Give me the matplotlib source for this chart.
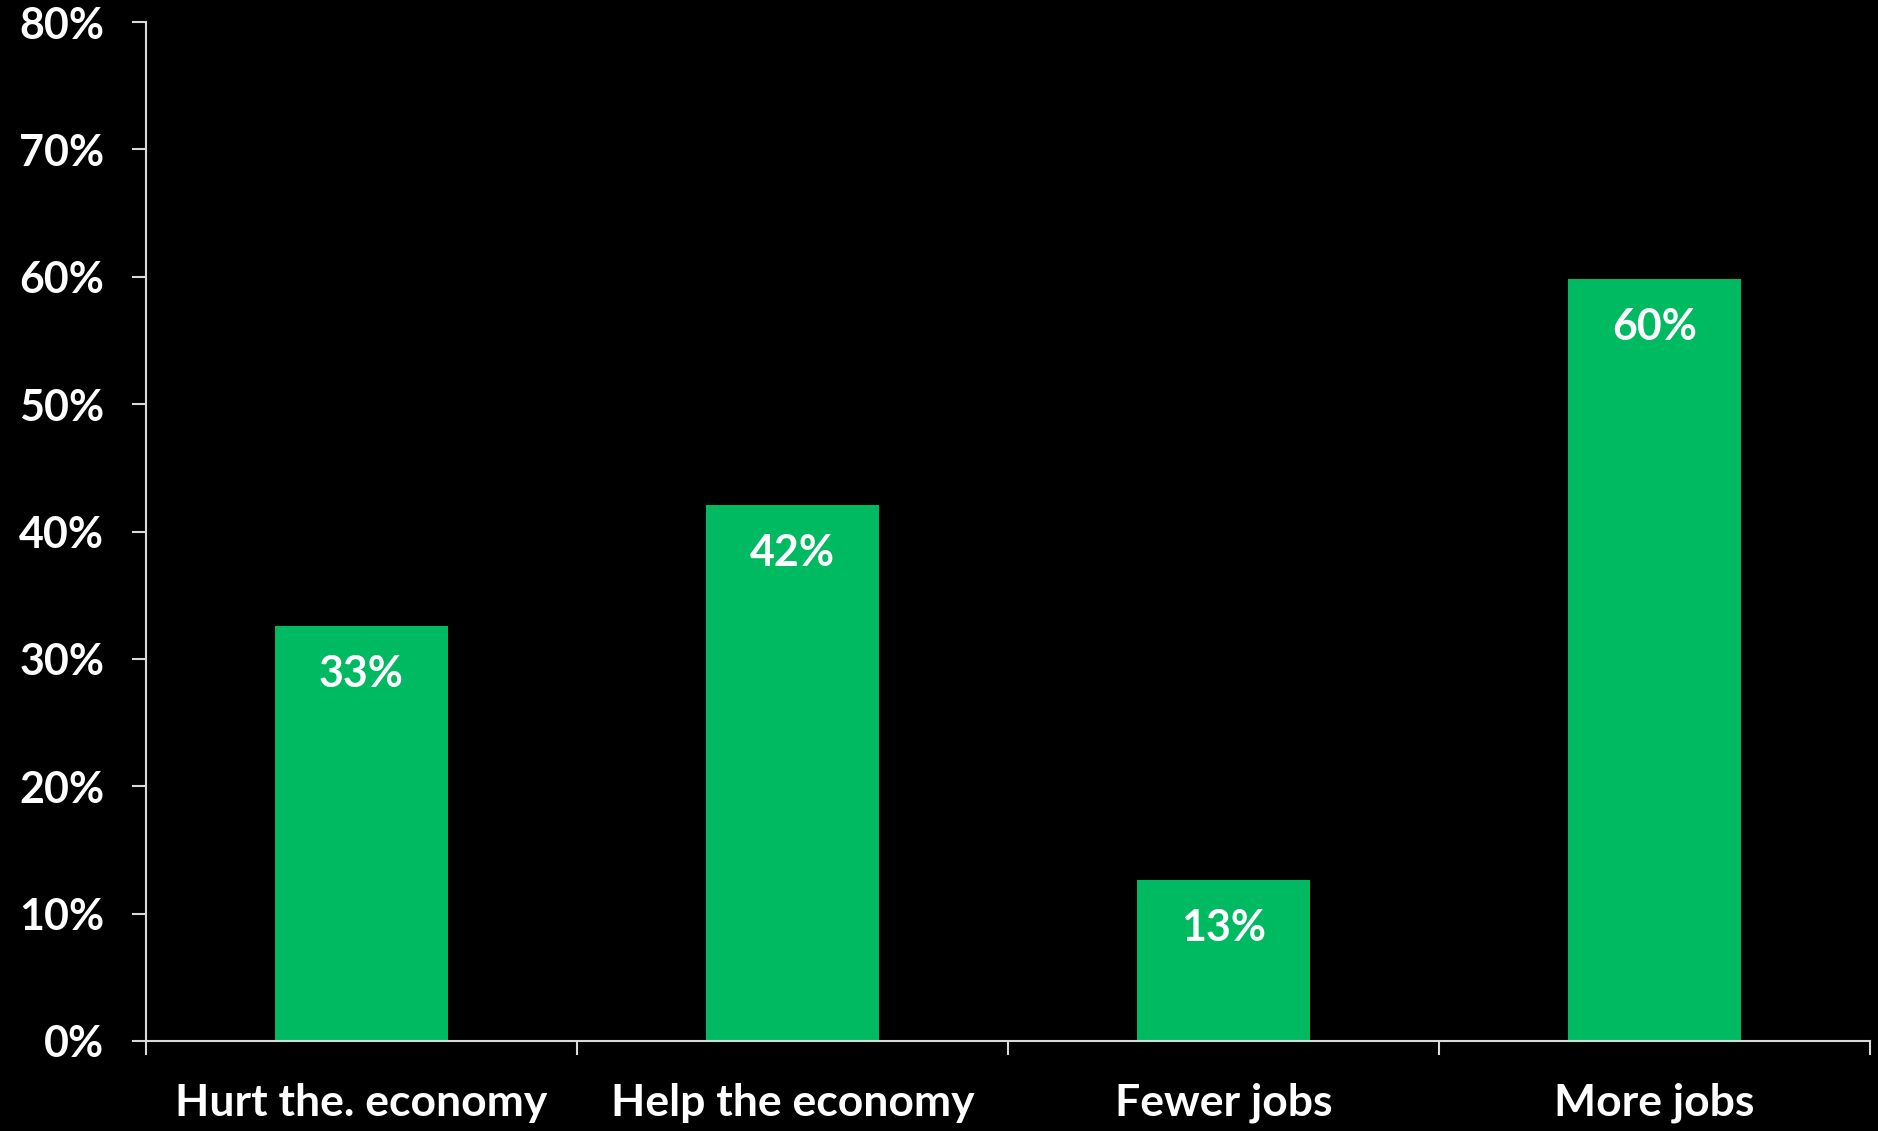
import matplotlib
matplotlib.use("Agg")
import matplotlib.pyplot as plt
from matplotlib.ticker import PercentFormatter

categories = ["Hurt the. economy", "Help the economy", "Fewer jobs", "More jobs"]
values = [32.6, 42.1, 12.6, 59.8]
yticks = [0, 10, 20, 30, 40, 50, 60, 70, 80]

BG = "#000000"
GREEN = "#00BA62"
AXIS = "#D9D9D9"
FONT = ["Lato", "DejaVu Sans"]

fig = plt.figure(figsize=(18.78, 11.31), dpi=100, facecolor=BG)
ax = fig.add_axes([0.0777, 0.0796, 0.9180, 0.9009])
ax.set_facecolor(BG)

x = list(range(len(categories)))
bars = ax.bar(x, values, width=0.4, color=GREEN, zorder=2)

for xi, v in zip(x, values):
    ax.annotate(f"{round(v):d}%", xy=(xi, v), xytext=(0, -48),
                textcoords="offset pixels", ha="center", va="center",
                color="white", fontsize=31, fontweight="bold", family=FONT)

ax.set_xlim(-0.5, len(categories) - 0.5)
ax.set_ylim(0, 80)
ax.set_yticks(yticks)
ax.yaxis.set_major_formatter(PercentFormatter(decimals=0))
ax.set_xticks(x)
ax.set_xticklabels(categories)
ax.set_xticks([i - 0.5 for i in range(len(categories) + 1)], minor=True)

for s in ["top", "right"]:
    ax.spines[s].set_visible(False)
for s in ["left", "bottom"]:
    ax.spines[s].set_color(AXIS)
    ax.spines[s].set_linewidth(1.5)

ax.tick_params(axis="y", colors=AXIS, length=10, width=1.5, pad=20,
               labelcolor="white", labelsize=31)
ax.tick_params(axis="x", which="major", length=0, pad=30,
               labelcolor="white", labelsize=32)
ax.tick_params(axis="x", which="minor", length=10, width=1.5, colors=AXIS)

for lab in ax.get_xticklabels() + ax.get_yticklabels():
    lab.set_fontweight("bold")
    lab.set_family(FONT)

fig.savefig("out.png", dpi=100, facecolor=BG)
